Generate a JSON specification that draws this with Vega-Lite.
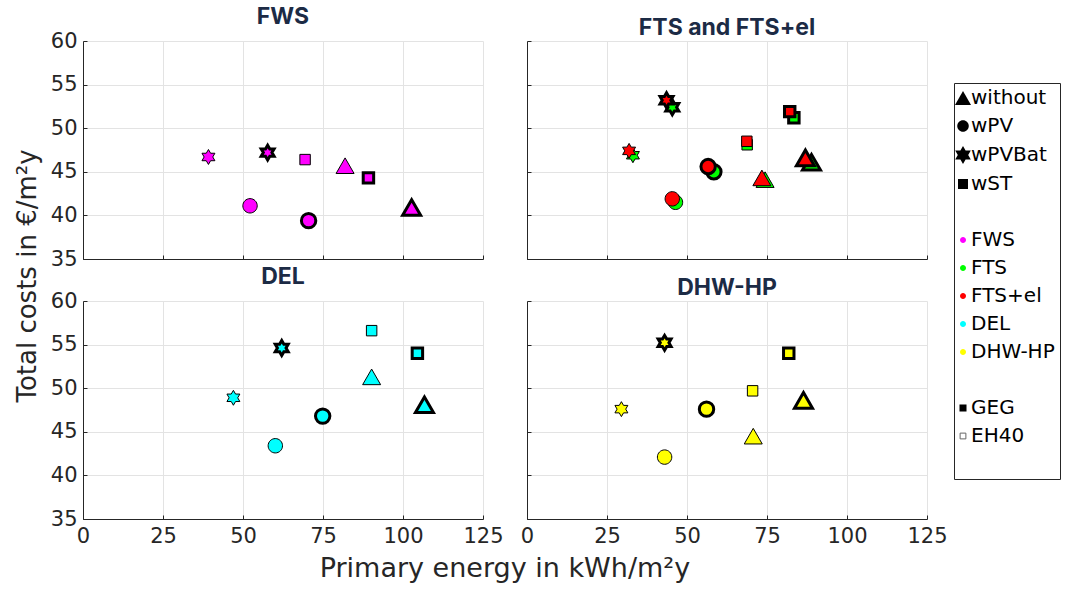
{
  "$schema": "https://vega.github.io/schema/vega-lite/v6.json",
  "background": "white",
  "padding": {"left": 15, "top": 6, "right": 2, "bottom": 2},
  "data": {"values": [
    {"p":"FWS","v":"FWS","s":"without","std":"GEG","pe":102.7,"cost":40.9},
    {"p":"FWS","v":"FWS","s":"without","std":"EH40","pe":81.9,"cost":45.7},
    {"p":"FWS","v":"FWS","s":"wPV","std":"GEG","pe":70.5,"cost":39.4},
    {"p":"FWS","v":"FWS","s":"wPV","std":"EH40","pe":52.2,"cost":41.1},
    {"p":"FWS","v":"FWS","s":"wPVBat","std":"GEG","pe":57.7,"cost":47.2},
    {"p":"FWS","v":"FWS","s":"wPVBat","std":"EH40","pe":39.2,"cost":46.7},
    {"p":"FWS","v":"FWS","s":"wST","std":"GEG","pe":89.2,"cost":44.3},
    {"p":"FWS","v":"FWS","s":"wST","std":"EH40","pe":69.4,"cost":46.4},
    {"p":"FTS and FTS+el","v":"FTS","s":"without","std":"GEG","pe":88.9,"cost":46.1},
    {"p":"FTS and FTS+el","v":"FTS","s":"without","std":"EH40","pe":74.4,"cost":44.1},
    {"p":"FTS and FTS+el","v":"FTS","s":"wPV","std":"GEG","pe":58.4,"cost":45.0},
    {"p":"FTS and FTS+el","v":"FTS","s":"wPV","std":"EH40","pe":46.4,"cost":41.5},
    {"p":"FTS and FTS+el","v":"FTS","s":"wPVBat","std":"GEG","pe":45.4,"cost":52.4},
    {"p":"FTS and FTS+el","v":"FTS","s":"wPVBat","std":"EH40","pe":33.1,"cost":46.9},
    {"p":"FTS and FTS+el","v":"FTS","s":"wST","std":"GEG","pe":83.4,"cost":51.2},
    {"p":"FTS and FTS+el","v":"FTS","s":"wST","std":"EH40","pe":68.8,"cost":48.1},
    {"p":"FTS and FTS+el","v":"FTS+el","s":"without","std":"GEG","pe":87.0,"cost":46.6},
    {"p":"FTS and FTS+el","v":"FTS+el","s":"without","std":"EH40","pe":73.4,"cost":44.3},
    {"p":"FTS and FTS+el","v":"FTS+el","s":"wPV","std":"GEG","pe":56.6,"cost":45.6},
    {"p":"FTS and FTS+el","v":"FTS+el","s":"wPV","std":"EH40","pe":45.4,"cost":41.9},
    {"p":"FTS and FTS+el","v":"FTS+el","s":"wPVBat","std":"GEG","pe":43.6,"cost":53.2},
    {"p":"FTS and FTS+el","v":"FTS+el","s":"wPVBat","std":"EH40","pe":31.9,"cost":47.4},
    {"p":"FTS and FTS+el","v":"FTS+el","s":"wST","std":"GEG","pe":82.1,"cost":51.9},
    {"p":"FTS and FTS+el","v":"FTS+el","s":"wST","std":"EH40","pe":68.7,"cost":48.5},
    {"p":"DEL","v":"DEL","s":"without","std":"GEG","pe":106.7,"cost":48.1},
    {"p":"DEL","v":"DEL","s":"without","std":"EH40","pe":90.2,"cost":51.3},
    {"p":"DEL","v":"DEL","s":"wPV","std":"GEG","pe":74.9,"cost":46.8},
    {"p":"DEL","v":"DEL","s":"wPV","std":"EH40","pe":60.1,"cost":43.4},
    {"p":"DEL","v":"DEL","s":"wPVBat","std":"GEG","pe":62.1,"cost":54.6},
    {"p":"DEL","v":"DEL","s":"wPVBat","std":"EH40","pe":47.0,"cost":48.9},
    {"p":"DEL","v":"DEL","s":"wST","std":"GEG","pe":104.5,"cost":54.0},
    {"p":"DEL","v":"DEL","s":"wST","std":"EH40","pe":90.2,"cost":56.6},
    {"p":"DHW-HP","v":"DHW-HP","s":"without","std":"GEG","pe":86.4,"cost":48.6},
    {"p":"DHW-HP","v":"DHW-HP","s":"without","std":"EH40","pe":70.7,"cost":44.5},
    {"p":"DHW-HP","v":"DHW-HP","s":"wPV","std":"GEG","pe":56.1,"cost":47.6},
    {"p":"DHW-HP","v":"DHW-HP","s":"wPV","std":"EH40","pe":43.0,"cost":42.1},
    {"p":"DHW-HP","v":"DHW-HP","s":"wPVBat","std":"GEG","pe":43.0,"cost":55.2},
    {"p":"DHW-HP","v":"DHW-HP","s":"wPVBat","std":"EH40","pe":29.5,"cost":47.6},
    {"p":"DHW-HP","v":"DHW-HP","s":"wST","std":"GEG","pe":81.8,"cost":54.0},
    {"p":"DHW-HP","v":"DHW-HP","s":"wST","std":"EH40","pe":70.5,"cost":49.7}
  ]},
  "title": {"text": "Primary energy in kWh/m²y", "orient": "bottom", "anchor": "middle", "frame": "bounds", "font": "DejaVu Sans", "fontSize": 27, "fontWeight": "normal", "color": "#262626", "offset": 10, "dx": -33},
  "hconcat": [
    {
      "title": {"text": "Total costs in €/m²y", "orient": "left", "anchor": "middle", "font": "DejaVu Sans", "fontSize": 26, "fontWeight": "normal", "color": "#262626", "offset": 9},
      "columns": 2,
      "bounds": "flush",
      "spacing": {"row": 42, "column": 44},
      "concat": [
        {
          "width": 400, "height": 218, "title": "FWS",
          "resolve": {"scale": {"shape": "independent", "fill": "independent", "stroke": "independent"}},
          "layer": [
            {
              "transform": [{"filter": "datum.p === 'FWS'"}],
              "mark": {"type": "point", "filled": true, "opacity": 1, "stroke": "#000000", "size": 324},
              "encoding": {
                "x": {"field": "pe", "type": "quantitative", "scale": {"domain": [0, 125], "nice": false, "zero": false}, "axis": {"values": [0, 25, 50, 75, 100, 125], "labels": false}},
                "y": {"field": "cost", "type": "quantitative", "scale": {"domain": [35, 60], "nice": false, "zero": false}, "axis": {"values": [35, 40, 45, 50, 55, 60], "labels": true}},
                "fill": {"field": "v", "type": "nominal", "scale": {"domain": ["FWS", "FTS", "FTS+el", "DEL", "DHW-HP"], "range": ["#ff00ff", "#00ff00", "#ff0000", "#00ffff", "#ffff00"]}, "legend": null},
                "strokeWidth": {"condition": {"test": "datum.std === 'GEG'", "value": 3}, "value": 1},
                "shape": {"field": "s", "type": "nominal", "scale": {"domain": ["without", "wPV", "wPVBat", "wST"], "range": ["M0,-0.866L1,0.866L-1,0.866Z", "M0.8,0A0.8,0.8,0,1,1,-0.8,0A0.8,0.8,0,1,1,0.8,0Z", "M0,-0.83L0.24,-0.415L0.719,-0.415L0.479,0L0.719,0.415L0.24,0.415L0,0.83L-0.24,0.415L-0.719,0.415L-0.479,0L-0.719,-0.415L-0.24,-0.415Z", "M-0.58,-0.58H0.58V0.58H-0.58Z"]}, "legend": null}
              }
            },
            {
              "transform": [{"filter": "false"}],
              "mark": {"type": "point", "filled": true, "opacity": 1, "strokeWidth": 1},
              "encoding": {
                "shape": {"field": "leg", "type": "nominal",
                  "scale": {"domain": ["without", "wPV", "wPVBat", "wST", " ", "FWS", "FTS", "FTS+el", "DEL", "DHW-HP", "  ", "GEG", "EH40", "   "],
                    "range": ["M0,-0.77L0.889,0.77L-0.889,0.77Z", "M0.64,0A0.64,0.64,0,1,1,-0.64,0A0.64,0.64,0,1,1,0.64,0Z", "M0,-1L0.289,-0.5L0.866,-0.5L0.577,0L0.866,0.5L0.289,0.5L0,1L-0.289,0.5L-0.866,0.5L-0.577,0L-0.866,-0.5L-0.289,-0.5Z", "M-0.556,-0.556H0.556V0.556H-0.556Z", "M0.3,0A0.3,0.3,0,1,1,-0.3,0A0.3,0.3,0,1,1,0.3,0Z", "M0.333,0A0.333,0.333,0,1,1,-0.333,0A0.333,0.333,0,1,1,0.333,0Z", "M0.333,0A0.333,0.333,0,1,1,-0.333,0A0.333,0.333,0,1,1,0.333,0Z", "M0.333,0A0.333,0.333,0,1,1,-0.333,0A0.333,0.333,0,1,1,0.333,0Z", "M0.333,0A0.333,0.333,0,1,1,-0.333,0A0.333,0.333,0,1,1,0.333,0Z", "M0.333,0A0.333,0.333,0,1,1,-0.333,0A0.333,0.333,0,1,1,0.333,0Z", "M0.3,0A0.3,0.3,0,1,1,-0.3,0A0.3,0.3,0,1,1,0.3,0Z", "M-0.39,-0.39H0.39V0.39H-0.39Z", "M-0.32,-0.32H0.32V0.32H-0.32Z", "M0.3,0A0.3,0.3,0,1,1,-0.3,0A0.3,0.3,0,1,1,0.3,0Z"]},
                  "legend": {"title": null, "orient": "none", "legendX": 871, "legendY": 42, "direction": "vertical", "strokeColor": "#262626", "fillColor": "#ffffff", "padding": 5, "symbolSize": 324, "symbolOffset": -6, "labelOffset": -2, "rowPadding": 8, "symbolStrokeWidth": 1, "labelFont": "DejaVu Sans", "labelFontSize": 20, "labelColor": "#000000", "labelLimit": 300}},
                "fill": {"field": "leg", "type": "nominal",
                  "scale": {"domain": ["without", "wPV", "wPVBat", "wST", " ", "FWS", "FTS", "FTS+el", "DEL", "DHW-HP", "  ", "GEG", "EH40", "   "],
                    "range": ["#000000", "#000000", "#000000", "#000000", "transparent", "#ff00ff", "#00ff00", "#ff0000", "#00ffff", "#ffff00", "transparent", "#000000", "#ffffff", "transparent"]},
                  "legend": {"title": null, "orient": "none", "legendX": 871, "legendY": 42}},
                "stroke": {"field": "leg", "type": "nominal",
                  "scale": {"domain": ["without", "wPV", "wPVBat", "wST", " ", "FWS", "FTS", "FTS+el", "DEL", "DHW-HP", "  ", "GEG", "EH40", "   "],
                    "range": ["transparent", "transparent", "transparent", "transparent", "transparent", "transparent", "transparent", "transparent", "transparent", "transparent", "transparent", "transparent", "#666666", "transparent"]},
                  "legend": {"title": null, "orient": "none", "legendX": 871, "legendY": 42}}
              }
            }
          ]
        },
        {
          "width": 400, "height": 218, "title": "FTS and FTS+el",
          "transform": [{"filter": "datum.p === 'FTS and FTS+el'"}],
          "mark": {"type": "point", "filled": true, "opacity": 1, "stroke": "#000000", "size": 324},
          "encoding": {
            "x": {"field": "pe", "type": "quantitative", "scale": {"domain": [0, 125], "nice": false, "zero": false}, "axis": {"values": [0, 25, 50, 75, 100, 125], "labels": false}},
            "y": {"field": "cost", "type": "quantitative", "scale": {"domain": [35, 60], "nice": false, "zero": false}, "axis": {"values": [35, 40, 45, 50, 55, 60], "labels": false}},
            "fill": {"field": "v", "type": "nominal", "scale": {"domain": ["FWS", "FTS", "FTS+el", "DEL", "DHW-HP"], "range": ["#ff00ff", "#00ff00", "#ff0000", "#00ffff", "#ffff00"]}, "legend": null},
            "strokeWidth": {"condition": {"test": "datum.std === 'GEG'", "value": 3}, "value": 1},
            "shape": {"field": "s", "type": "nominal", "scale": {"domain": ["without", "wPV", "wPVBat", "wST"], "range": ["M0,-0.866L1,0.866L-1,0.866Z", "M0.8,0A0.8,0.8,0,1,1,-0.8,0A0.8,0.8,0,1,1,0.8,0Z", "M0,-0.83L0.24,-0.415L0.719,-0.415L0.479,0L0.719,0.415L0.24,0.415L0,0.83L-0.24,0.415L-0.719,0.415L-0.479,0L-0.719,-0.415L-0.24,-0.415Z", "M-0.58,-0.58H0.58V0.58H-0.58Z"]}, "legend": null}
          }
        },
        {
          "width": 400, "height": 218, "title": "DEL",
          "transform": [{"filter": "datum.p === 'DEL'"}],
          "mark": {"type": "point", "filled": true, "opacity": 1, "stroke": "#000000", "size": 324},
          "encoding": {
            "x": {"field": "pe", "type": "quantitative", "scale": {"domain": [0, 125], "nice": false, "zero": false}, "axis": {"values": [0, 25, 50, 75, 100, 125], "labels": true}},
            "y": {"field": "cost", "type": "quantitative", "scale": {"domain": [35, 60], "nice": false, "zero": false}, "axis": {"values": [35, 40, 45, 50, 55, 60], "labels": true}},
            "fill": {"field": "v", "type": "nominal", "scale": {"domain": ["FWS", "FTS", "FTS+el", "DEL", "DHW-HP"], "range": ["#ff00ff", "#00ff00", "#ff0000", "#00ffff", "#ffff00"]}, "legend": null},
            "strokeWidth": {"condition": {"test": "datum.std === 'GEG'", "value": 3}, "value": 1},
            "shape": {"field": "s", "type": "nominal", "scale": {"domain": ["without", "wPV", "wPVBat", "wST"], "range": ["M0,-0.866L1,0.866L-1,0.866Z", "M0.8,0A0.8,0.8,0,1,1,-0.8,0A0.8,0.8,0,1,1,0.8,0Z", "M0,-0.83L0.24,-0.415L0.719,-0.415L0.479,0L0.719,0.415L0.24,0.415L0,0.83L-0.24,0.415L-0.719,0.415L-0.479,0L-0.719,-0.415L-0.24,-0.415Z", "M-0.58,-0.58H0.58V0.58H-0.58Z"]}, "legend": null}
          }
        },
        {
          "width": 400, "height": 218, "title": "DHW-HP",
          "transform": [{"filter": "datum.p === 'DHW-HP'"}],
          "mark": {"type": "point", "filled": true, "opacity": 1, "stroke": "#000000", "size": 324},
          "encoding": {
            "x": {"field": "pe", "type": "quantitative", "scale": {"domain": [0, 125], "nice": false, "zero": false}, "axis": {"values": [0, 25, 50, 75, 100, 125], "labels": true}},
            "y": {"field": "cost", "type": "quantitative", "scale": {"domain": [35, 60], "nice": false, "zero": false}, "axis": {"values": [35, 40, 45, 50, 55, 60], "labels": false}},
            "fill": {"field": "v", "type": "nominal", "scale": {"domain": ["FWS", "FTS", "FTS+el", "DEL", "DHW-HP"], "range": ["#ff00ff", "#00ff00", "#ff0000", "#00ffff", "#ffff00"]}, "legend": null},
            "strokeWidth": {"condition": {"test": "datum.std === 'GEG'", "value": 3}, "value": 1},
            "shape": {"field": "s", "type": "nominal", "scale": {"domain": ["without", "wPV", "wPVBat", "wST"], "range": ["M0,-0.866L1,0.866L-1,0.866Z", "M0.8,0A0.8,0.8,0,1,1,-0.8,0A0.8,0.8,0,1,1,0.8,0Z", "M0,-0.83L0.24,-0.415L0.719,-0.415L0.479,0L0.719,0.415L0.24,0.415L0,0.83L-0.24,0.415L-0.719,0.415L-0.479,0L-0.719,-0.415L-0.24,-0.415Z", "M-0.58,-0.58H0.58V0.58H-0.58Z"]}, "legend": null}
          }
        }
      ]
    }
  ],
  "config": {
    "view": {"stroke": null},
    "font": "DejaVu Sans",
    "axis": {"grid": true, "gridColor": "#e3e3e3", "gridWidth": 1, "domainColor": "#262626", "domainWidth": 1, "tickColor": "#262626", "tickSize": -4, "labelFont": "DejaVu Sans", "labelFontSize": 21, "labelColor": "#262626", "labelPadding": 10, "labelFlush": false, "labelOverlap": false, "title": null},
    "title": {"font": "Inter", "fontSize": 23, "fontWeight": "bold", "color": "#1c2b45", "offset": 1}
  }
}
